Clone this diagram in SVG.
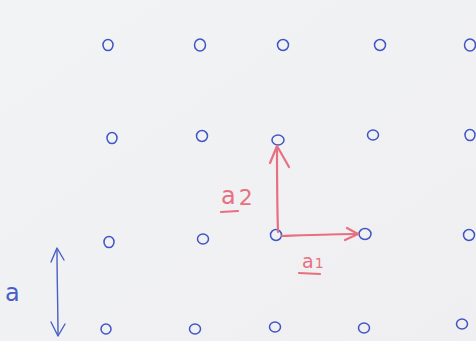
<svg xmlns="http://www.w3.org/2000/svg" width="476" height="341" viewBox="0 0 476 341">
<style>
.pt{fill:none;stroke:#3f55c4;stroke-width:1.5}
.red{fill:none;stroke:#e8707e;stroke-width:2.2;stroke-linecap:round;stroke-linejoin:round}
.blue{fill:none;stroke:#4a5ec8;stroke-width:1.4;stroke-linecap:round;stroke-linejoin:round}
.rt{font-family:"DejaVu Sans",sans-serif;fill:#e8707e}
.bt{font-family:"DejaVu Sans",sans-serif;fill:#4a5ec8;font-size:24px}
</style>
<defs>
<linearGradient id="bg" x1="0" y1="0" x2="1" y2="1">
<stop offset="0" stop-color="#f2f3f5"/>
<stop offset="1" stop-color="#efeff1"/>
</linearGradient>
</defs>
<rect width="476" height="341" fill="url(#bg)"/>
<g id="lattice">
<ellipse class="pt" cx="108" cy="45" rx="5" ry="5.5"/>
<ellipse class="pt" cx="200" cy="45" rx="5.5" ry="6"/>
<ellipse class="pt" cx="283" cy="45" rx="5.5" ry="5.5"/>
<ellipse class="pt" cx="380" cy="45" rx="5.5" ry="5.5"/>
<ellipse class="pt" cx="470" cy="45" rx="5.5" ry="6"/>
<ellipse class="pt" cx="112" cy="138" rx="5" ry="5.5"/>
<ellipse class="pt" cx="202" cy="136" rx="5.5" ry="5.5"/>
<ellipse class="pt" cx="278" cy="140" rx="6" ry="5"/>
<ellipse class="pt" cx="373" cy="135" rx="5.5" ry="5"/>
<ellipse class="pt" cx="470" cy="135" rx="5" ry="5.5"/>
<ellipse class="pt" cx="109" cy="242" rx="5" ry="5.5"/>
<ellipse class="pt" cx="203" cy="239" rx="5.5" ry="5"/>
<ellipse class="pt" cx="276" cy="235" rx="5.5" ry="5.5"/>
<ellipse class="pt" cx="365" cy="234" rx="6" ry="5.5"/>
<ellipse class="pt" cx="469" cy="235" rx="5.5" ry="5.5"/>
<ellipse class="pt" cx="106" cy="329" rx="5" ry="5"/>
<ellipse class="pt" cx="195" cy="329" rx="5.5" ry="5"/>
<ellipse class="pt" cx="275" cy="327" rx="5.5" ry="5"/>
<ellipse class="pt" cx="364" cy="328" rx="5.5" ry="5"/>
<ellipse class="pt" cx="462" cy="324" rx="5.5" ry="5"/>
</g>
<g id="connectors">
<path class="red" d="M278,232 C277,200 277,170 277,147"/>
<path class="red" d="M270,163 L277,146 L289,167"/>
<path class="red" d="M282,236 C310,235 335,234 357,234"/>
<path class="red" d="M347,228 L358,234 L345,240"/>
<path class="blue" d="M57,250 C57,280 58,310 58,335"/>
<path class="blue" d="M51,262 L57,248 L64,260"/>
<path class="blue" d="M51,322 L58,336 L65,324"/>
</g>
<g id="label-a2">
<text class="rt" x="221" y="204" font-size="24">a<tspan font-size="22" dx="3" dy="1">2</tspan></text>
<path class="red" d="M221,212 L238,211" stroke-width="1.8"/>
</g>
<g id="label-a1">
<text class="rt" x="302" y="268" font-size="19">a<tspan font-size="14" dx="1" dy="0">1</tspan></text>
<path class="red" d="M299,273 L320,274" stroke-width="1.8"/>
</g>
<g id="label-a">
<text class="bt" x="5" y="301">a</text>
</g>
</svg>
